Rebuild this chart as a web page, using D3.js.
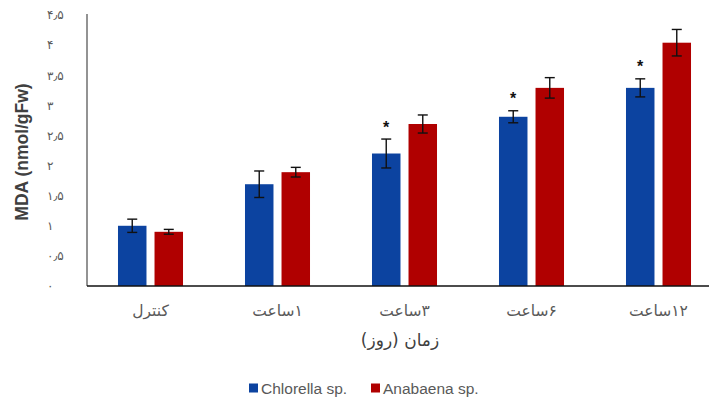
<!DOCTYPE html>
<html>
<head>
<meta charset="utf-8">
<script src="https://cdn.jsdelivr.net/npm/d3@7"></script>
<style>
  html, body { margin: 0; padding: 0; background: #fff; }
  svg { display: block; }
</style>
</head>
<body>
<svg id="chart" width="709" height="398"></svg>
<script>
// MDA content over time for two species
const categories = ["کنترل", "۱ساعت", "۳ساعت", "۶ساعت", "۱۲ساعت"];
const seriesNames = ["Chlorella sp.", "Anabaena sp."];
const chlorella = [1.0, 1.69, 2.2, 2.81, 3.29];
const anabaena = [0.9, 1.89, 2.69, 3.29, 4.04];
const chlorellaErr = [0.11, 0.22, 0.24, 0.1, 0.15];
const anabaenaErr = [0.04, 0.08, 0.15, 0.17, 0.22];
const chlorellaStar = [false, false, true, true, true];
const yTicks = [0, 0.5, 1, 1.5, 2, 2.5, 3, 3.5, 4, 4.5];
const yTickLabels = ["۰", "۰٫۵", "۱", "۱٫۵", "۲", "۲٫۵", "۳", "۳٫۵", "۴", "۴٫۵"];
const colors = ["#0c43a0", "#b00000"];

const svg = d3.select("#chart");
const plotLeft = 87, plotRight = 722, plotTop = 15, plotBottom = 286;

const y = d3.scaleLinear().domain([0, 4.5]).range([plotBottom, plotTop]);
const x0 = d3.scaleBand().domain(categories).range([plotLeft, plotRight])
  .paddingInner(0.488).paddingOuter(0.244);
const x1 = d3.scaleBand().domain(seriesNames).range([0, x0.bandwidth()])
  .paddingInner(0.22);

const rows = categories.map((c, i) => ({
  cat: c,
  items: [
    { name: seriesNames[0], v: chlorella[i], e: chlorellaErr[i], star: chlorellaStar[i] },
    { name: seriesNames[1], v: anabaena[i], e: anabaenaErr[i], star: false }
  ]
}));

// bars
const groups = svg.append("g").selectAll("g").data(rows).join("g")
  .attr("transform", d => `translate(${x0(d.cat)},0)`);

groups.selectAll("rect").data(d => d.items).join("rect")
  .attr("x", d => x1(d.name))
  .attr("y", d => y(d.v))
  .attr("width", x1.bandwidth())
  .attr("height", d => y(0) - y(d.v))
  .attr("fill", (d, i) => colors[i]);

// error bars
const capW = 10;
const eb = groups.selectAll("g.err").data(d => d.items).join("g").attr("class", "err")
  .attr("transform", d => `translate(${x1(d.name) + x1.bandwidth() / 2},0)`)
  .attr("stroke", "#111").attr("stroke-width", 1.4);
eb.append("line").attr("x1", 0).attr("x2", 0)
  .attr("y1", d => y(d.v + d.e)).attr("y2", d => y(d.v - d.e));
eb.append("line").attr("x1", -capW / 2).attr("x2", capW / 2)
  .attr("y1", d => y(d.v + d.e)).attr("y2", d => y(d.v + d.e));
eb.append("line").attr("x1", -capW / 2).attr("x2", capW / 2)
  .attr("y1", d => y(d.v - d.e)).attr("y2", d => y(d.v - d.e));

// significance marks
groups.selectAll("text.star").data(d => d.items.filter(it => it.star)).join("text")
  .attr("class", "star")
  .attr("x", d => x1(d.name) + x1.bandwidth() / 2)
  .attr("y", d => y(d.v + d.e) - 12)
  .attr("text-anchor", "middle")
  .attr("dominant-baseline", "central")
  .attr("font-family", "Liberation Sans, Arial, sans-serif")
  .attr("font-weight", "bold")
  .attr("font-size", 16)
  .attr("fill", "#111")
  .text("*");

// y axis
const yAxis = d3.axisLeft(y).tickValues(yTicks).tickSize(0).tickPadding(0)
  .tickFormat((d, i) => yTickLabels[i]);
const gy = svg.append("g").attr("transform", `translate(${plotLeft},0)`).call(yAxis);
gy.select(".domain").attr("stroke", "#595959").attr("stroke-width", 1.3)
  .attr("d", `M0,${plotTop - 1}V${plotBottom}`);
gy.selectAll(".tick text")
  .attr("x", 47 - plotLeft)
  .attr("text-anchor", "start")
  .attr("font-family", "DejaVu Sans, sans-serif")
  .attr("font-size", 12)
  .attr("fill", "#595959");

// x axis
const xAxis = d3.axisBottom(x0).tickSize(0).tickPadding(0);
const gx = svg.append("g").attr("transform", `translate(0,${plotBottom})`).call(xAxis);
gx.select(".domain").attr("stroke", "#111").attr("stroke-width", 1.6)
  .attr("d", `M${plotLeft},0H709`);
gx.selectAll(".tick text")
  .attr("y", 30)
  .attr("dy", null)
  .attr("direction", "rtl")
  .attr("font-family", "DejaVu Sans, sans-serif")
  .attr("font-size", 15.5)
  .attr("fill", "#595959");

// axis titles
svg.append("text")
  .attr("x", 400).attr("y", 346)
  .attr("text-anchor", "middle")
  .attr("direction", "rtl")
  .attr("font-family", "DejaVu Sans, sans-serif")
  .attr("font-size", 17)
  .attr("fill", "#404040")
  .text("زمان (روز)");

svg.append("text")
  .attr("transform", "translate(28,152) rotate(-90)")
  .attr("text-anchor", "middle")
  .attr("font-family", "Liberation Sans, Arial, sans-serif")
  .attr("font-weight", "bold")
  .attr("font-size", 17.5)
  .attr("fill", "#404040")
  .text("MDA (nmol/gFw)");

// legend
const legend = svg.append("g").attr("transform", "translate(0,388)");
const legX = [249, 371];
seriesNames.forEach((n, i) => {
  legend.append("rect").attr("x", legX[i]).attr("y", -4.5).attr("width", 9).attr("height", 9)
    .attr("fill", colors[i]);
  legend.append("text").attr("x", legX[i] + 12).attr("y", 0.5)
    .attr("dominant-baseline", "central")
    .attr("font-family", "Liberation Sans, Arial, sans-serif")
    .attr("font-size", 15.5)
    .attr("fill", "#595959")
    .text(n);
});
</script>
</body>
</html>
